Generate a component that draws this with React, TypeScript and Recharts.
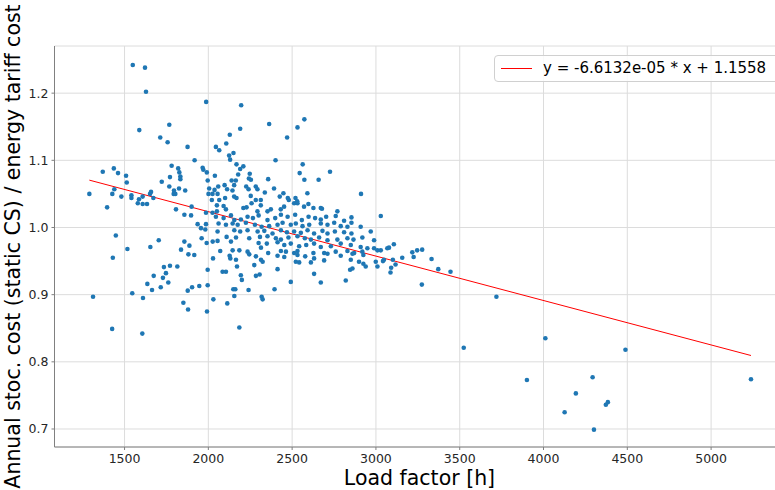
import React from 'react'
import { ScatterChart, Scatter, XAxis, YAxis, CartesianGrid, ReferenceLine } from 'recharts'

// load factor [h], cost ratio
const leftGroup: [number, number][] = [
  [1549, 1.242], [1622, 1.238], [1628, 1.202], [1588, 1.145], [1713, 1.134], [1757, 1.127], [1767, 1.153],
  [1290, 1.05], [1370, 1.083], [1436, 1.088], [1461, 1.081], [1509, 1.077], [1513, 1.067], [1439, 1.057],
  [1427, 1.05], [1481, 1.046], [1541, 1.048], [1541, 1.044], [1586, 1.042], [1608, 1.046], [1652, 1.05],
  [1658, 1.053], [1672, 1.044], [1722, 1.068], [1771, 1.075], [1781, 1.092], [1820, 1.088], [1827, 1.082],
  [1833, 1.076], [1833, 1.072], [1767, 1.061], [1795, 1.055], [1793, 1.05], [1803, 1.05], [1825, 1.058],
  [1579, 1.036], [1608, 1.035], [1634, 1.035], [1396, 1.03], [1807, 1.027], [1448, 0.988], [1517, 0.968],
  [1430, 0.955], [1704, 0.981], [1654, 0.971], [1312, 0.897], [1426, 0.849], [1606, 0.842], [1546, 0.902],
  [1610, 0.895], [1636, 0.916], [1664, 0.907], [1674, 0.928], [1716, 0.911], [1729, 0.925], [1735, 0.941],
  [1747, 0.932], [1761, 0.918], [1771, 0.943], [1815, 0.942], [1837, 0.967],
]

const upperCluster: [number, number][] = [
  [1987, 1.187], [2196, 1.182], [2363, 1.154], [2573, 1.161], [2532, 1.149], [2190, 1.147], [2128, 1.138],
  [2470, 1.134], [1876, 1.12], [2045, 1.12], [2065, 1.115], [2107, 1.125], [2150, 1.111], [2124, 1.107],
  [1918, 1.1], [2130, 1.101], [2401, 1.1], [2563, 1.094], [2168, 1.094], [2209, 1.091], [2190, 1.087],
  [1966, 1.089], [1970, 1.086], [1991, 1.082], [2545, 1.081], [2726, 1.083], [2247, 1.08], [2178, 1.079],
  [2039, 1.077], [2573, 1.071], [2658, 1.071], [2357, 1.072], [2139, 1.07], [2164, 1.07], [1996, 1.07],
  [2242, 1.073], [2254, 1.071], [2097, 1.063], [2112, 1.057], [2059, 1.061], [2037, 1.056], [2005, 1.058],
  [2001, 1.05], [2025, 1.05], [2055, 1.05], [2154, 1.063], [2144, 1.055], [2226, 1.061], [2240, 1.057],
  [2283, 1.061], [2293, 1.057], [2337, 1.052], [2392, 1.058], [2426, 1.046], [2448, 1.051], [2474, 1.044],
  [2911, 1.05], [2100, 1.044], [2065, 1.041], [2021, 1.041], [2051, 1.033], [2091, 1.032], [2154, 1.046],
  [2168, 1.044], [2253, 1.047], [2283, 1.041], [2313, 1.041], [2258, 1.036], [2313, 1.033], [2209, 1.029],
  [2228, 1.03], [2480, 1.041], [2512, 1.036], [2532, 1.036], [2571, 1.031], [2597, 1.035], [2627, 1.029],
  [2671, 1.029], [2678, 1.028], [2770, 1.024], [2373, 1.027], [2432, 1.027], [2452, 1.031], [2353, 1.024],
  [2293, 1.024], [2105, 1.027], [2051, 1.024], [2025, 1.022], [1986, 1.022], [1862, 1.055], [1900, 1.031],
  [2591, 1.051], [2520, 1.044], [2530, 1.039],
]

const lowerCluster: [number, number][] = [
  [1857, 1.019], [1897, 1.018], [2045, 1.016], [2091, 1.014], [2135, 1.018], [2155, 1.011], [2194, 1.012],
  [2234, 1.016], [2266, 1.014], [2300, 1.018], [2353, 1.011], [2399, 1.014], [2433, 1.019], [2473, 1.016],
  [2518, 1.019], [2558, 1.011], [2598, 1.016], [2637, 1.014], [2671, 1.012], [2703, 1.016], [2760, 1.017],
  [2810, 1.01], [2854, 1.015], [3029, 1.017],
  [1936, 1.005], [1986, 1.005], [2061, 1.006], [2105, 1.004], [2145, 1.006], [2175, 1.004], [2224, 1.007],
  [2278, 1.004], [2318, 1.001], [2363, 1.002], [2413, 1.004], [2443, 1.007], [2492, 1.004], [2522, 1.006],
  [2562, 1.002], [2602, 1.004], [2671, 1.006], [2711, 1.004], [2751, 1.007], [2790, 1.002], [2830, 1.001],
  [2854, 1.007], [2909, 1.001],
  [1956, 0.999], [1982, 0.997], [2055, 0.994], [2155, 0.996], [2190, 0.994], [2234, 0.996], [2294, 0.994],
  [2334, 0.995], [2383, 0.991], [2433, 0.996], [2469, 0.993], [2512, 0.994], [2552, 0.992], [2592, 0.996],
  [2631, 0.991], [2681, 0.995], [2711, 0.991], [2755, 0.994], [2810, 0.993], [2854, 0.991], [2969, 0.994],
  [1960, 0.984], [2109, 0.986], [2165, 0.985], [2244, 0.984], [2308, 0.986], [2353, 0.987], [2403, 0.984],
  [2433, 0.982], [2478, 0.985], [2532, 0.987], [2576, 0.984], [2612, 0.982], [2661, 0.985], [2711, 0.981],
  [2770, 0.982], [2830, 0.984], [2866, 0.982], [2919, 0.985], [2989, 0.981],
  [1857, 0.979], [1990, 0.977], [2026, 0.979], [2055, 0.98], [2135, 0.979], [2300, 0.977], [2349, 0.976],
  [2413, 0.978], [2453, 0.974], [2492, 0.976], [2542, 0.972], [2584, 0.974], [2631, 0.976], [2671, 0.971],
  [2731, 0.972], [2790, 0.976], [2850, 0.974], [2909, 0.971], [2949, 0.969], [3009, 0.966],
  [1887, 0.973], [2071, 0.965], [2145, 0.966], [2185, 0.966], [2234, 0.964], [2314, 0.97], [2357, 0.962],
  [2433, 0.965], [2463, 0.964], [2512, 0.962], [2532, 0.965], [2627, 0.962], [2691, 0.962], [2760, 0.964],
  [2830, 0.965], [2870, 0.962], [2919, 0.964], [2989, 0.969],
  [1881, 0.96], [1916, 0.959], [2127, 0.958], [2131, 0.954], [2244, 0.96], [2284, 0.957], [2413, 0.958],
  [2453, 0.956], [2532, 0.959], [2578, 0.957], [2631, 0.954], [2711, 0.961], [2790, 0.958], [2860, 0.961],
  [2925, 0.959], [3029, 0.966],
  [2028, 0.954], [2165, 0.952], [2314, 0.952], [2324, 0.949], [2522, 0.949], [2542, 0.948], [2612, 0.948],
  [2691, 0.951], [2850, 0.952], [2899, 0.949], [2925, 0.946], [2999, 0.949],
  [1996, 0.937], [2171, 0.942], [2274, 0.944], [2413, 0.938], [2631, 0.931], [2846, 0.937], [2860, 0.939],
  [2939, 0.942], [3009, 0.942],
  [2085, 0.934], [2105, 0.934], [2194, 0.929], [2200, 0.922], [2284, 0.928], [2306, 0.93], [2492, 0.919],
  [2671, 0.918], [2820, 0.921],
  [1877, 0.906], [1903, 0.911], [1946, 0.913], [1996, 0.914], [2149, 0.908], [2161, 0.908], [2240, 0.907],
  [2395, 0.908], [2030, 0.893], [2155, 0.898], [2318, 0.897], [2324, 0.893], [1851, 0.888], [1879, 0.878],
  [1992, 0.875], [2113, 0.887], [2185, 0.851],
]

const rightGroup: [number, number][] = [
  [3068, 0.969], [3078, 0.97], [3107, 0.975], [3157, 0.955], [3101, 0.952], [3117, 0.945], [3091, 0.94],
  [3087, 0.933], [3217, 0.963], [3225, 0.956], [3246, 0.966], [3276, 0.967], [3332, 0.953], [3372, 0.938],
  [3274, 0.915], [3042, 0.95], [3048, 0.952],
  [3445, 0.934], [3524, 0.821], [3719, 0.897], [3901, 0.773], [4011, 0.835], [4126, 0.725], [4193, 0.753],
  [4293, 0.777], [4301, 0.699], [4372, 0.736], [4384, 0.74], [4489, 0.818], [5238, 0.774],
]

const fitLine = [
  { x: 1290, y: 1.0705 },
  { x: 5238, y: 0.8094 },
]
const fitLabel = 'y = -6.6132e-05 * x + 1.1558'

const xTicks = [1500, 2000, 2500, 3000, 3500, 4000, 4500, 5000]
const yTicks = [0.7, 0.8, 0.9, 1.0, 1.1, 1.2]

const points = [...leftGroup, ...upperCluster, ...lowerCluster, ...rightGroup].map(([x, y]) => ({ x, y }))

const font = '"DejaVu Sans", sans-serif'
const axisGray = '#808080'

const Dot = (props: any) => <circle cx={props.cx} cy={props.cy} r={2.3} fill="#1f77b4" />

const YLabel = () => (
  <text
    x={13}
    y={246.5}
    transform="rotate(-90 13 246.5)"
    textAnchor="middle"
    dominantBaseline="central"
    fontSize={20.5}
    fontFamily={font}
    fill="#000"
  >
    Annual stoc. cost (static CS) / energy tariff cost
  </text>
)

export default function App() {
  return (
    <div
      style={{
        position: 'absolute',
        left: 0,
        top: 0,
        width: 775,
        height: 490,
        overflow: 'hidden',
        background: '#fff',
        fontFamily: font,
      }}
    >
      <ScatterChart width={790} height={490} margin={{ top: 46, right: 5.5, bottom: 0, left: 0 }}>
        <CartesianGrid stroke="#dcdcdc" strokeWidth={1} />
        <XAxis
          type="number"
          dataKey="x"
          domain={[1082, 5438]}
          ticks={xTicks}
          allowDataOverflow
          height={43}
          axisLine={{ stroke: axisGray }}
          tickLine={{ stroke: axisGray }}
          tickSize={3}
          tickMargin={4}
          tick={{ fill: '#262626', fontSize: 12.5, fontFamily: font }}
          label={{ value: 'Load factor [h]', position: 'insideBottom', offset: 5, fontSize: 20.5, fill: '#000', fontFamily: font }}
        />
        <YAxis
          type="number"
          dataKey="y"
          domain={[0.6732, 1.2702]}
          ticks={yTicks}
          allowDataOverflow
          width={54.5}
          axisLine={{ stroke: axisGray }}
          tickLine={{ stroke: axisGray }}
          tickSize={3}
          tickMargin={3}
          tickFormatter={(v: number) => v.toFixed(1)}
          tick={{ fill: '#262626', fontSize: 12.5, fontFamily: font }}
          label={<YLabel />}
        />
        <Scatter data={points} shape={Dot} isAnimationActive={false} />
        <ReferenceLine segment={fitLine} stroke="#ff0000" strokeWidth={1} />
      </ScatterChart>

      {/* legend box, runs off the right edge like the original */}
      <div
        style={{
          position: 'absolute',
          left: 494,
          top: 55,
          width: 292,
          height: 27,
          boxSizing: 'border-box',
          border: '1px solid #d0d0d0',
          borderRadius: 4,
          background: 'rgba(255,255,255,0.85)',
        }}
      >
        <div style={{ position: 'absolute', left: 6, top: 12, width: 31, height: 1, background: '#ff0000' }} />
        <div style={{ position: 'absolute', left: 48, top: 0, lineHeight: '25px', fontSize: 15, color: '#000', whiteSpace: 'nowrap' }}>
          {fitLabel}
        </div>
      </div>
    </div>
  )
}
